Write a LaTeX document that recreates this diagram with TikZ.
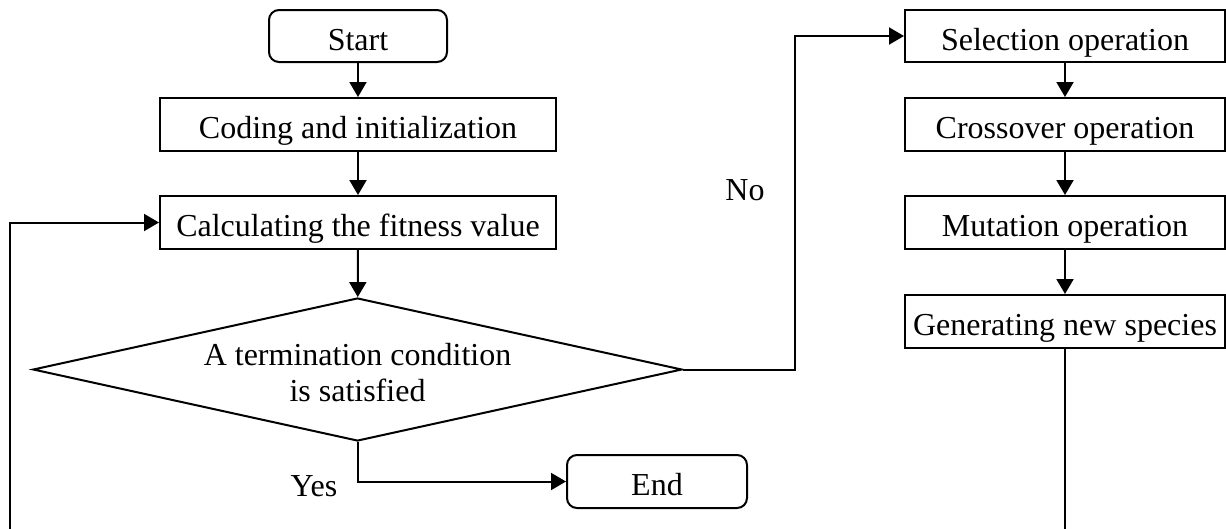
\documentclass[tikz,border=0pt]{standalone}
\usepackage{fontspec}
\setmainfont{Liberation Serif}
\usetikzlibrary{shapes.geometric,arrows.meta}
\begin{document}
\begin{tikzpicture}[x=1pt,y=-1pt,line width=2pt,
  txt/.style={font=\fontsize{32}{36}\selectfont},
  box/.style={draw,rectangle,txt,inner sep=0pt,text height=28pt,text depth=0pt,minimum width=#1,minimum height=53pt},
  rbox/.style={box=#1,rounded corners=10pt},
  dia/.style={draw,diamond,inner sep=0pt,minimum width=649pt,minimum height=143pt},
  arr/.style={-{Triangle[length=15pt,width=17pt]}}]
\clip (0,0) rectangle (1226,528);
\fill[white] (0,0) rectangle (1226,528);
% left column
\node[rbox=178pt,minimum height=52pt] (start) at (358,36) {Start};
\node[box=396pt] (coding) at (358,124.5) {Coding and initialization};
\node[box=396pt] (calc) at (358,222.5) {Calculating the fitness value};
\node[dia,label={[txt,align=center,yshift=-3pt]center:A termination condition\\is satisfied}] (cond) at (357.5,369.5) {};
\node[rbox=180pt] (end) at (657,481.5) {End};
% right column
\node[box=320pt,minimum height=52pt] (sel) at (1065,36) {Selection operation};
\node[box=320pt] (cross) at (1065,124.5) {Crossover operation};
\node[box=320pt] (mut) at (1065,222.5) {Mutation operation};
\node[box=320pt] (gen) at (1065,321.5) {Generating new species};
% labels
\node[txt] (no) at (745,190) {No};
\node[txt] (yes) at (314,486) {Yes};
% helper coordinates
\coordinate (nx) at (795,369.5);
\coordinate (lb) at (10,560);
% connectors
\draw[arr] (start) -- (coding);
\draw[arr] (coding) -- (calc);
\draw[arr] (calc) -- (cond);
\draw[arr] (cond.east) -- (nx) |- (sel.west);
\draw[arr] (cond.south) |- (end.west);
\draw[arr] (sel) -- (cross);
\draw[arr] (cross) -- (mut);
\draw[arr] (mut) -- (gen);
\draw[arr] (gen.south) |- (lb) |- (calc.west);
\end{tikzpicture}
\end{document}
